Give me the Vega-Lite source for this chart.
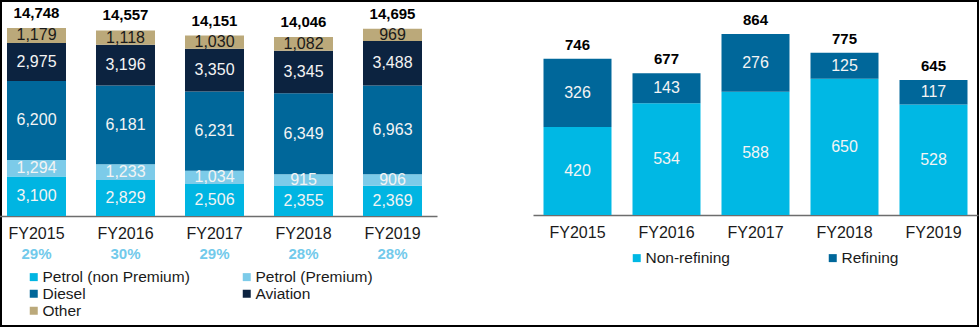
{
  "$schema": "https://vega.github.io/schema/vega-lite/v6.json",
  "width": 979,
  "height": 327,
  "autosize": {"type": "fit", "contains": "padding"},
  "padding": 0,
  "background": "white",
  "config": {
    "view": {"stroke": "#000000", "strokeWidth": 4},
    "font": "Liberation Sans",
    "text": {"font": "Liberation Sans"},
    "legend": {"labelFont": "Liberation Sans"},
    "axis": {"labelFont": "Liberation Sans"}
  },
  "datasets": {
    "fuel": [
      {"year": "FY2015", "cat": "Petrol (non Premium)", "value": 3100, "o": 1},
      {"year": "FY2015", "cat": "Petrol (Premium)", "value": 1294, "o": 2},
      {"year": "FY2015", "cat": "Diesel", "value": 6200, "o": 3},
      {"year": "FY2015", "cat": "Aviation", "value": 2975, "o": 4},
      {"year": "FY2015", "cat": "Other", "value": 1179, "o": 5},
      {"year": "FY2016", "cat": "Petrol (non Premium)", "value": 2829, "o": 1},
      {"year": "FY2016", "cat": "Petrol (Premium)", "value": 1233, "o": 2},
      {"year": "FY2016", "cat": "Diesel", "value": 6181, "o": 3},
      {"year": "FY2016", "cat": "Aviation", "value": 3196, "o": 4},
      {"year": "FY2016", "cat": "Other", "value": 1118, "o": 5},
      {"year": "FY2017", "cat": "Petrol (non Premium)", "value": 2506, "o": 1},
      {"year": "FY2017", "cat": "Petrol (Premium)", "value": 1034, "o": 2},
      {"year": "FY2017", "cat": "Diesel", "value": 6231, "o": 3},
      {"year": "FY2017", "cat": "Aviation", "value": 3350, "o": 4},
      {"year": "FY2017", "cat": "Other", "value": 1030, "o": 5},
      {"year": "FY2018", "cat": "Petrol (non Premium)", "value": 2355, "o": 1},
      {"year": "FY2018", "cat": "Petrol (Premium)", "value": 915, "o": 2},
      {"year": "FY2018", "cat": "Diesel", "value": 6349, "o": 3},
      {"year": "FY2018", "cat": "Aviation", "value": 3345, "o": 4},
      {"year": "FY2018", "cat": "Other", "value": 1082, "o": 5},
      {"year": "FY2019", "cat": "Petrol (non Premium)", "value": 2369, "o": 1},
      {"year": "FY2019", "cat": "Petrol (Premium)", "value": 906, "o": 2},
      {"year": "FY2019", "cat": "Diesel", "value": 6963, "o": 3},
      {"year": "FY2019", "cat": "Aviation", "value": 3488, "o": 4},
      {"year": "FY2019", "cat": "Other", "value": 969, "o": 5}
    ],
    "pct": [
      {"year": "FY2015", "pct": "29%"},
      {"year": "FY2016", "pct": "30%"},
      {"year": "FY2017", "pct": "29%"},
      {"year": "FY2018", "pct": "28%"},
      {"year": "FY2019", "pct": "28%"}
    ],
    "refining": [
      {"year": "FY2015", "cat": "Non-refining", "value": 420, "o": 1},
      {"year": "FY2015", "cat": "Refining", "value": 326, "o": 2},
      {"year": "FY2016", "cat": "Non-refining", "value": 534, "o": 1},
      {"year": "FY2016", "cat": "Refining", "value": 143, "o": 2},
      {"year": "FY2017", "cat": "Non-refining", "value": 588, "o": 1},
      {"year": "FY2017", "cat": "Refining", "value": 276, "o": 2},
      {"year": "FY2018", "cat": "Non-refining", "value": 650, "o": 1},
      {"year": "FY2018", "cat": "Refining", "value": 125, "o": 2},
      {"year": "FY2019", "cat": "Non-refining", "value": 528, "o": 1},
      {"year": "FY2019", "cat": "Refining", "value": 117, "o": 2}
    ]
  },
  "layer": [
    {
      "data": {"name": "fuel"},
      "encoding": {
        "x": {
          "field": "year",
          "type": "nominal",
          "scale": {"range": [-8, 437], "paddingInner": 0.337, "paddingOuter": 0.1685},
          "axis": {
            "orient": "bottom", "offset": -111, "title": null, "ticks": false, "tickSize": 0,
            "labelPadding": 9, "labelFontSize": 16, "labelColor": "#1a1a1a", "labelAngle": 0,
            "domainColor": "#6d6d6d", "domainWidth": 1.5
          }
        }
      },
      "layer": [
        {
          "mark": {"type": "bar"},
          "encoding": {
            "y": {"field": "value", "type": "quantitative", "stack": "zero",
                  "scale": {"domain": [-8706, 16941], "nice": false, "zero": false}, "axis": null},
            "color": {
              "field": "cat", "type": "nominal",
              "scale": {
                "domain": ["Petrol (non Premium)", "Petrol (Premium)", "Diesel", "Aviation", "Other"],
                "range": ["#00b5e2", "#7ccbe9", "#00679a", "#0c2340", "#bba97a"]
              },
              "legend": {
                "title": null, "orient": "none", "legendX": 26, "legendY": 269, "columns": 2,
                "direction": "horizontal", "columnPadding": 49, "rowPadding": -4,
                "symbolType": "square", "symbolSize": 64, "symbolStrokeWidth": 0, "symbolOpacity": 1,
                "labelFontSize": 15.5, "labelColor": "#1a1a1a", "labelOffset": 1, "labelLimit": 300
              }
            },
            "order": {"field": "o", "type": "quantitative"}
          }
        },
        {
          "mark": {"type": "text", "fontSize": 16, "baseline": "middle"},
          "encoding": {
            "y": {"field": "value", "type": "quantitative", "stack": "zero", "bandPosition": 0.5},
            "detail": {"field": "cat", "type": "nominal"},
            "order": {"field": "o", "type": "quantitative"},
            "text": {"field": "value", "type": "quantitative", "format": ","},
            "color": {"condition": {"test": "datum.cat === 'Other'", "value": "#1a1a1a"}, "value": "#f4f4f4"}
          }
        },
        {
          "mark": {"type": "text", "fontSize": 15, "fontWeight": "bold", "baseline": "middle", "dy": -15, "color": "#000000"},
          "encoding": {
            "y": {"aggregate": "sum", "field": "value", "type": "quantitative"},
            "text": {"aggregate": "sum", "field": "value", "type": "quantitative", "format": ","}
          }
        },
        {
          "data": {"name": "pct"},
          "mark": {"type": "text", "fontSize": 15, "fontWeight": "bold", "baseline": "middle", "dy": 38, "color": "#72caeb"},
          "encoding": {
            "y": {"datum": 0},
            "text": {"field": "pct", "type": "nominal"}
          }
        }
      ]
    },
    {
      "data": {"name": "refining"},
      "encoding": {
        "x": {
          "field": "year",
          "type": "nominal",
          "scale": {"range": [533, 978], "paddingInner": 0.236, "paddingOuter": 0.118},
          "axis": {
            "orient": "bottom", "offset": -112, "title": null, "ticks": false, "tickSize": 0,
            "labelPadding": 9, "labelFontSize": 16, "labelColor": "#1a1a1a", "labelAngle": 0,
            "domainColor": "#6d6d6d", "domainWidth": 1.5
          }
        }
      },
      "layer": [
        {
          "mark": {"type": "bar"},
          "encoding": {
            "y": {"field": "value", "type": "quantitative", "stack": "zero",
                  "scale": {"domain": [-534.6, 1026.3], "nice": false, "zero": false}, "axis": null},
            "color": {
              "field": "cat", "type": "nominal",
              "scale": {"domain": ["Non-refining", "Refining"], "range": ["#00b8e4", "#00679a"]},
              "legend": {
                "title": null, "orient": "none", "legendX": 629, "legendY": 250,
                "direction": "horizontal", "columnPadding": 95,
                "symbolType": "square", "symbolSize": 64, "symbolStrokeWidth": 0, "symbolOpacity": 1,
                "labelFontSize": 15.5, "labelColor": "#1a1a1a", "labelOffset": 1
              }
            },
            "order": {"field": "o", "type": "quantitative"}
          }
        },
        {
          "mark": {"type": "text", "fontSize": 16, "baseline": "middle", "color": "#f4f4f4"},
          "encoding": {
            "y": {"field": "value", "type": "quantitative", "stack": "zero", "bandPosition": 0.5},
            "detail": {"field": "cat", "type": "nominal"},
            "order": {"field": "o", "type": "quantitative"},
            "text": {"field": "value", "type": "quantitative", "format": ","}
          }
        },
        {
          "mark": {"type": "text", "fontSize": 15, "fontWeight": "bold", "baseline": "middle", "dy": -14, "color": "#000000"},
          "encoding": {
            "y": {"aggregate": "sum", "field": "value", "type": "quantitative"},
            "text": {"aggregate": "sum", "field": "value", "type": "quantitative", "format": ","}
          }
        }
      ]
    }
  ],
  "resolve": {
    "scale": {"x": "independent", "y": "independent", "color": "independent"},
    "axis": {"x": "independent"},
    "legend": {"color": "independent"}
  }
}
